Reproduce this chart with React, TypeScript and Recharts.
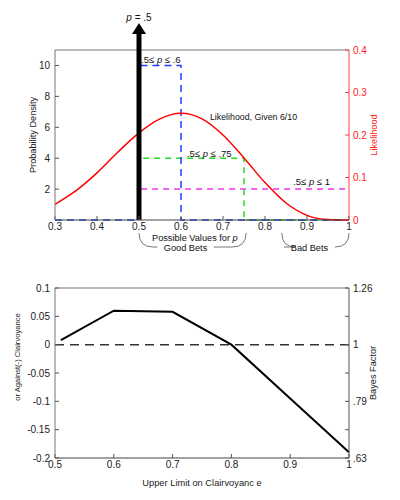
import React from "react";
import {
  LineChart,
  Line,
  XAxis,
  YAxis,
  ReferenceLine,
  ReferenceDot,
  ReferenceArea,
} from "recharts";

const FONT = '"Liberation Sans", Arial, Helvetica, sans-serif';

// top panel: likelihood of 6 hits in 10
const pGrid = [0.3, 0.35, 0.4, 0.45, 0.5, 0.55, 0.6, 0.65, 0.7, 0.75, 0.8, 0.85, 0.9, 0.95, 1];
const likelihood = [0.037, 0.069, 0.111, 0.16, 0.205, 0.238, 0.251, 0.238, 0.2, 0.146, 0.088, 0.04, 0.011, 0.001, 0];

// uniform priors (probability density)
const narrowX = [0.3, 0.5, 0.5, 0.6, 0.6, 1];
const narrowY = [0, 0, 10, 10, 0, 0];
const midX = [0.5, 0.5, 0.75, 0.75, 1];
const midY = [0, 4, 4, 0, 0];
const wideX = [0.5, 0.5, 1];
const wideY = [0, 2, 2];

const topTicksX = [0.3, 0.4, 0.5, 0.6, 0.7, 0.8, 0.9, 1];
const densityTicks = [2, 4, 6, 8, 10];
const likelihoodTicks = [0, 0.1, 0.2, 0.3, 0.4];

// bottom panel: log10 Bayes factor vs upper limit
const upperLimit = [0.51, 0.6, 0.7, 0.8, 0.9, 1];
const logBF = [0.008, 0.06, 0.058, 0, -0.095, -0.19];
const bottomTicksX = [0.5, 0.6, 0.7, 0.8, 0.9, 1];
const logTicks = [-0.2, -0.15, -0.1, -0.05, 0, 0.05, 0.1];
const bayesLabels: Record<string, string> = { "-0.2": ".63", "-0.1": ".79", "0": "1", "0.1": "1.26" };

const zip = (xs: number[], ys: number[]) => xs.map((x, i) => ({ x, y: ys[i] }));

const tickStyle = { fontSize: 10, fill: "#222", fontFamily: FONT };

const rotLabel = (text: string, cx: number, color = "#222", shift = 0, size = 9.2) => (props: any) => {
  const vb = props.viewBox;
  const cy = vb.y + vb.height / 2 + shift;
  return (
    <text
      x={cx}
      y={cy}
      transform={`rotate(-90 ${cx} ${cy})`}
      textAnchor="middle"
      fontSize={size}
      fontFamily={FONT}
      fill={color}
    >
      {text}
    </text>
  );
};

const Note = ({ cx, cy, children, anchor = "start", dy = 0, size = 9.5 }: any) => (
  <text x={cx} y={cy + dy} textAnchor={anchor} fontSize={size} fontFamily={FONT} fill="#111">
    {children}
  </text>
);

const Brace = (label: string, shift: number) => (p: any) => {
  const x1 = p.x;
  const x2 = p.x + p.width;
  const y0 = p.y + p.height + 13;
  const y1 = y0 + 14;
  const mid = (x1 + x2) / 2 + shift;
  const half = label.length * 2.8 + 3;
  return (
    <g>
      <path
        d={`M${x1},${y0} Q${x1},${y1} ${x1 + 14},${y1} L${mid - half},${y1} M${mid + half},${y1} L${x2 - 14},${y1} Q${x2},${y1} ${x2},${y0}`}
        fill="none"
        stroke="#777"
        strokeWidth={1}
      />
      <text x={mid} y={y1 + 3.5} textAnchor="middle" fontSize={9.2} fontFamily={FONT} fill="#111">
        {label}
      </text>
    </g>
  );
};

const Arrow = (p: any) => {
  const x = p.x1;
  const bottom = Math.max(p.y1, p.y2);
  const tip = Math.min(p.y1, p.y2) - 27;
  return (
    <g>
      <line x1={x} x2={x} y1={bottom} y2={tip + 10} stroke="#000" strokeWidth={5} />
      <path d={`M${x - 7},${tip + 11} L${x},${tip} L${x + 7},${tip + 11} Z`} fill="#000" />
    </g>
  );
};

function TopPanel() {
  return (
    <LineChart width={400} height={260} margin={{ top: 50, right: 0, bottom: 0, left: 0 }}>
      <XAxis
        type="number"
        dataKey="x"
        domain={[0.3, 1]}
        ticks={topTicksX}
        allowDataOverflow
        height={40}
        tickSize={-4}
        tickMargin={7}
        tick={tickStyle}
        tickFormatter={(v: number) => (v === 1 ? "1" : v.toFixed(1))}
        axisLine={{ stroke: "#444" }}
        tickLine={{ stroke: "#555" }}
      />
      <YAxis
        yAxisId="left"
        type="number"
        domain={[0, 11]}
        ticks={densityTicks}
        width={55}
        tickSize={-4}
        tickMargin={9}
        tick={tickStyle}
        axisLine={{ stroke: "#777" }}
        tickLine={{ stroke: "#555" }}
        label={{ content: rotLabel("Probability Density", 36) }}
      />
      <YAxis
        yAxisId="right"
        orientation="right"
        type="number"
        domain={[0, 0.4]}
        ticks={likelihoodTicks}
        width={51}
        tickSize={-4}
        tickMargin={8}
        tick={{ ...tickStyle, fill: "#ff2020" }}
        tickFormatter={(v: number) => (v === 0 ? "0" : String(v))}
        axisLine={{ stroke: "#ff4040" }}
        tickLine={{ stroke: "#ff4040" }}
        label={{ content: rotLabel("Likelihood", 377, "#ff2020") }}
      />
      <ReferenceLine yAxisId="left" y={11} stroke="#777" />
      <Line
        yAxisId="left"
        data={zip(wideX, wideY)}
        dataKey="y"
        type="linear"
        stroke="#ee33ee"
        strokeWidth={1.5}
        strokeDasharray="6 5"
        dot={false}
        isAnimationActive={false}
      />
      <Line
        yAxisId="left"
        data={zip(midX, midY)}
        dataKey="y"
        type="linear"
        stroke="#22dd22"
        strokeWidth={1.5}
        strokeDasharray="6 5"
        dot={false}
        isAnimationActive={false}
      />
      <Line
        yAxisId="left"
        data={zip(narrowX, narrowY)}
        dataKey="y"
        type="linear"
        stroke="#1f3fff"
        strokeWidth={1.5}
        strokeDasharray="7 5"
        dot={false}
        isAnimationActive={false}
      />
      <Line
        yAxisId="right"
        data={zip(pGrid, likelihood)}
        dataKey="y"
        type="monotone"
        stroke="#ff0000"
        strokeWidth={1.5}
        dot={false}
        isAnimationActive={false}
      />
      <ReferenceLine yAxisId="left" x={0.5} shape={Arrow} />
      <ReferenceDot
        yAxisId="left"
        x={0.5}
        y={12.9}
        ifOverflow="visible"
        shape={(p: any) => (
          <Note cx={p.cx} cy={p.cy} anchor="middle" size={10}>
            <tspan fontStyle="italic">p</tspan> = .5
          </Note>
        )}
      />
      <ReferenceDot
        yAxisId="left"
        x={0.505}
        y={10.15}
        shape={(p: any) => (
          <Note cx={p.cx} cy={p.cy}>
            .5≤ <tspan fontStyle="italic">p</tspan> ≤ .6
          </Note>
        )}
      />
      <ReferenceDot
        yAxisId="left"
        x={0.669}
        y={6.5}
        shape={(p: any) => (
          <Note cx={p.cx} cy={p.cy} size={8.8}>
            Likelihood, Given 6/10
          </Note>
        )}
      />
      <ReferenceDot
        yAxisId="left"
        x={0.614}
        y={4.1}
        shape={(p: any) => (
          <Note cx={p.cx} cy={p.cy}>
            .5≤ <tspan fontStyle="italic">p</tspan> ≤ .75
          </Note>
        )}
      />
      <ReferenceDot
        yAxisId="left"
        x={0.867}
        y={2.27}
        shape={(p: any) => (
          <Note cx={p.cx} cy={p.cy}>
            .5≤ <tspan fontStyle="italic">p</tspan> ≤ 1
          </Note>
        )}
      />
      <ReferenceDot
        yAxisId="left"
        x={0.633}
        y={0}
        shape={(p: any) => (
          <Note cx={p.cx} cy={p.cy} dy={21} anchor="middle" size={9.2}>
            Possible Values for <tspan fontStyle="italic">p</tspan>
          </Note>
        )}
      />
      <ReferenceArea yAxisId="left" x1={0.5} x2={0.755} shape={Brace("Good Bets", -7)} />
      <ReferenceArea yAxisId="left" x1={0.84} x2={1} shape={Brace("Bad Bets", -6)} />
    </LineChart>
  );
}

function BottomPanel() {
  const data = zip(upperLimit, logBF);
  return (
    <LineChart width={400} height={240} data={data} margin={{ top: 28, right: 0, bottom: 0, left: 0 }}>
      <XAxis
        type="number"
        dataKey="x"
        domain={[0.5, 1]}
        ticks={bottomTicksX}
        height={42}
        tickSize={-4}
        tickMargin={7}
        tick={tickStyle}
        tickFormatter={(v: number) => (v === 1 ? "1" : v.toFixed(1))}
        axisLine={{ stroke: "#444" }}
        tickLine={{ stroke: "#555" }}
        label={{
          value: "Upper Limit on Clairvoyanc e",
          position: "insideBottom",
          offset: 14,
          fontSize: 9.3,
          fontFamily: FONT,
          fill: "#222",
        }}
      />
      <YAxis
        yAxisId="left"
        type="number"
        domain={[-0.2, 0.1]}
        ticks={logTicks}
        width={55}
        tickSize={-4}
        tickMargin={9}
        tick={tickStyle}
        tickFormatter={(v: number) => String(Math.round(v * 100) / 100)}
        axisLine={{ stroke: "#777" }}
        tickLine={{ stroke: "#555" }}
        label={{ content: rotLabel("or Against(-) Clairvoyance", 20, "#222", -16, 7.6) }}
      />
      <YAxis
        yAxisId="right"
        orientation="right"
        type="number"
        domain={[-0.2, 0.1]}
        ticks={logTicks}
        width={51}
        tickSize={-4}
        tickMargin={8}
        tick={tickStyle}
        tickFormatter={(v: number) => bayesLabels[String(Math.round(v * 100) / 100)] ?? ""}
        axisLine={{ stroke: "#555" }}
        tickLine={{ stroke: "#555" }}
        label={{ content: rotLabel("Bayes Factor", 376) }}
      />
      <ReferenceLine yAxisId="left" y={0.1} stroke="#777" />
      <ReferenceLine
        yAxisId="right"
        y={0}
        ifOverflow="extendDomain"
        stroke="#333"
        strokeWidth={1.5}
        strokeDasharray="9 6"
      />
      <Line
        yAxisId="left"
        dataKey="y"
        type="linear"
        stroke="#000"
        strokeWidth={2}
        dot={false}
        isAnimationActive={false}
      />
    </LineChart>
  );
}

export default function App() {
  return (
    <div style={{ position: "absolute", left: 0, top: 0, width: 400, height: 500, background: "#fff" }}>
      <TopPanel />
      <BottomPanel />
    </div>
  );
}
